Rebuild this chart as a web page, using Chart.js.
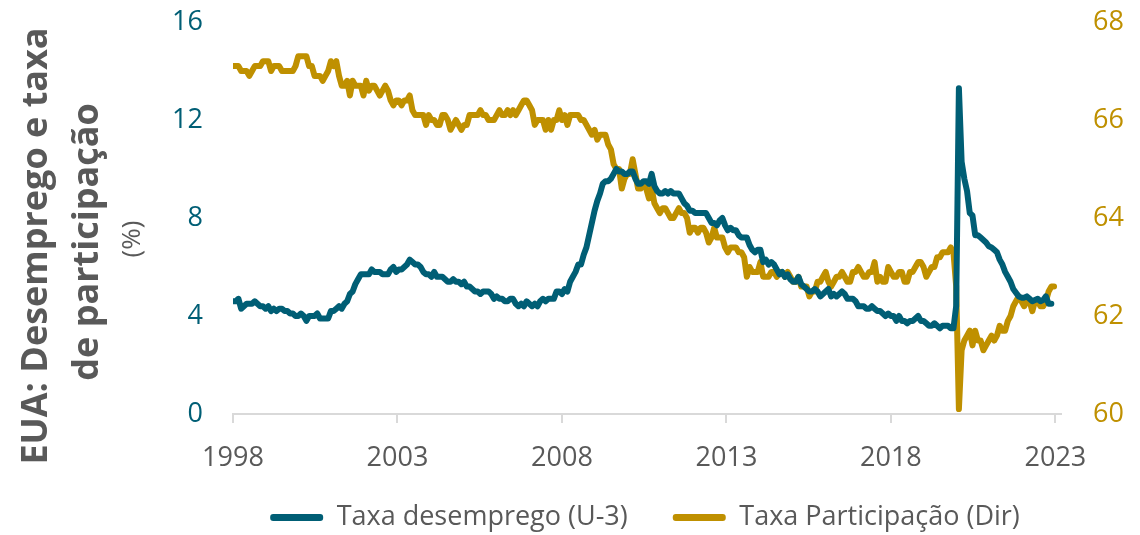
<!DOCTYPE html>
<html>
<head>
<meta charset="utf-8">
<script src="https://cdn.jsdelivr.net/npm/chart.js"></script>
<style>
  html, body { margin: 0; padding: 0; background: #ffffff; }
  #wrap { width: 1140px; height: 535px; position: relative; }
</style>
</head>
<body>
<div id="wrap"><canvas id="chart-eua"></canvas></div>
<script>
// monthly series, starting Jan 1998
var startYear = 1998;
var xTickYears = [1998, 2003, 2008, 2013, 2018, 2023];
// the source axis puts a year tick every ~60.5 monthly points
var monthsPerTick = 60.5;

var seriesNames = ["Taxa desemprego (U-3)", "Taxa Participação (Dir)"];

var unemployment = [
  4.6, 4.6, 4.7, 4.3, 4.4, 4.5, 4.5, 4.5, 4.6, 4.5, 4.4, 4.4,   // 1998
  4.3, 4.4, 4.2, 4.3, 4.2, 4.3, 4.3, 4.2, 4.2, 4.1, 4.1, 4.0,   // 1999
  4.0, 4.1, 4.0, 3.8, 4.0, 4.0, 4.0, 4.1, 3.9, 3.9, 3.9, 3.9,   // 2000
  4.2, 4.2, 4.3, 4.4, 4.3, 4.5, 4.6, 4.9, 5.0, 5.3, 5.5, 5.7,   // 2001
  5.7, 5.7, 5.7, 5.9, 5.8, 5.8, 5.8, 5.7, 5.7, 5.7, 5.9, 6.0,   // 2002
  5.8, 5.9, 5.9, 6.0, 6.1, 6.3, 6.2, 6.1, 6.1, 6.0, 5.8, 5.7,   // 2003
  5.7, 5.6, 5.8, 5.6, 5.6, 5.6, 5.5, 5.4, 5.4, 5.5, 5.4, 5.4,   // 2004
  5.3, 5.4, 5.2, 5.2, 5.1, 5.0, 5.0, 4.9, 5.0, 5.0, 5.0, 4.9,   // 2005
  4.7, 4.8, 4.7, 4.7, 4.6, 4.6, 4.7, 4.7, 4.5, 4.4, 4.5, 4.4,   // 2006
  4.6, 4.5, 4.4, 4.5, 4.4, 4.6, 4.7, 4.6, 4.7, 4.7, 4.7, 5.0,   // 2007
  5.0, 4.9, 5.1, 5.0, 5.4, 5.6, 5.8, 6.1, 6.1, 6.5, 6.8, 7.3,   // 2008
  7.8, 8.3, 8.7, 9.0, 9.4, 9.5, 9.5, 9.6, 9.8, 10.0, 9.9, 9.9,  // 2009
  9.8, 9.8, 9.9, 9.9, 9.6, 9.4, 9.4, 9.5, 9.5, 9.4, 9.8, 9.3,   // 2010
  9.1, 9.0, 9.0, 9.1, 9.0, 9.1, 9.0, 9.0, 9.0, 8.8, 8.6, 8.5,   // 2011
  8.3, 8.3, 8.2, 8.2, 8.2, 8.2, 8.2, 8.0, 7.8, 7.8, 7.7, 7.9,   // 2012
  8.0, 7.7, 7.5, 7.6, 7.5, 7.5, 7.3, 7.2, 7.2, 7.2, 6.9, 6.7,   // 2013
  6.6, 6.7, 6.7, 6.2, 6.3, 6.1, 6.2, 6.1, 5.9, 5.7, 5.8, 5.6,   // 2014
  5.7, 5.5, 5.4, 5.4, 5.6, 5.3, 5.2, 5.1, 5.0, 5.0, 5.1, 5.0,   // 2015
  4.8, 4.9, 5.0, 5.1, 4.8, 4.9, 4.8, 4.9, 5.0, 4.9, 4.7, 4.7,   // 2016
  4.7, 4.6, 4.4, 4.4, 4.4, 4.3, 4.3, 4.4, 4.3, 4.2, 4.2, 4.1,   // 2017
  4.0, 4.1, 4.0, 4.0, 3.8, 4.0, 3.8, 3.8, 3.7, 3.8, 3.8, 3.9,   // 2018
  4.0, 3.8, 3.8, 3.7, 3.6, 3.6, 3.7, 3.6, 3.5, 3.6, 3.6, 3.6,   // 2019
  3.5, 3.5, 4.4, 13.3, 10.3, 9.6, 9.1, 8.2, 8.1, 7.3, 7.3, 7.2, // 2020
  7.1, 7.0, 6.85, 6.8, 6.7, 6.6, 6.3, 6.1, 5.8, 5.6, 5.4, 5.1,  // 2021
  4.95, 4.8, 4.75, 4.75, 4.8, 4.7, 4.6, 4.65, 4.7, 4.6, 4.65, 4.8, // 2022
  4.5, 4.5                                                       // 2023
];

var participation = [
  67.1, 67.1, 67.1, 67.0, 67.0, 67.0, 66.9, 67.0, 67.1, 67.1, 67.1, 67.2, // 1998
  67.2, 67.2, 67.0, 67.1, 67.1, 67.1, 67.0, 67.0, 67.0, 67.0, 67.0, 67.1, // 1999
  67.3, 67.3, 67.3, 67.3, 67.1, 67.1, 66.9, 66.9, 66.9, 66.8, 66.9, 67.0, // 2000
  67.2, 67.1, 67.2, 66.9, 66.7, 66.7, 66.8, 66.5, 66.8, 66.7, 66.7, 66.7, // 2001
  66.5, 66.8, 66.6, 66.7, 66.7, 66.6, 66.5, 66.6, 66.7, 66.6, 66.4, 66.3, // 2002
  66.4, 66.4, 66.3, 66.4, 66.4, 66.5, 66.2, 66.1, 66.1, 66.1, 66.1, 65.9, // 2003
  66.1, 66.0, 66.0, 65.9, 65.9, 66.1, 66.1, 66.0, 65.8, 65.9, 66.0, 65.9, // 2004
  65.8, 65.9, 65.9, 66.1, 66.1, 66.1, 66.1, 66.2, 66.1, 66.1, 66.0, 66.0, // 2005
  66.0, 66.1, 66.2, 66.1, 66.1, 66.2, 66.1, 66.2, 66.1, 66.2, 66.3, 66.4, // 2006
  66.4, 66.3, 66.2, 65.9, 66.0, 66.0, 66.0, 65.8, 66.0, 65.8, 66.0, 66.0, // 2007
  66.2, 66.0, 66.1, 65.9, 66.1, 66.1, 66.1, 66.1, 66.0, 66.0, 65.9, 65.8, // 2008
  65.7, 65.8, 65.6, 65.7, 65.7, 65.7, 65.5, 65.4, 65.1, 65.0, 65.0, 64.6, // 2009
  64.8, 64.9, 64.9, 65.2, 64.9, 64.6, 64.6, 64.7, 64.6, 64.4, 64.6, 64.3, // 2010
  64.2, 64.1, 64.2, 64.2, 64.1, 64.0, 64.0, 64.1, 64.2, 64.1, 64.1, 64.0, // 2011
  63.7, 63.8, 63.8, 63.7, 63.8, 63.8, 63.7, 63.5, 63.6, 63.8, 63.6, 63.6, // 2012
  63.6, 63.4, 63.3, 63.4, 63.4, 63.4, 63.3, 63.3, 63.2, 62.8, 63.0, 62.9, // 2013
  62.9, 62.9, 63.1, 62.8, 62.8, 62.8, 62.9, 62.9, 62.8, 62.9, 62.9, 62.8, // 2014
  62.9, 62.8, 62.7, 62.7, 62.8, 62.6, 62.6, 62.6, 62.4, 62.5, 62.5, 62.7, // 2015
  62.7, 62.8, 62.9, 62.7, 62.6, 62.7, 62.8, 62.8, 62.9, 62.8, 62.7, 62.7, // 2016
  62.9, 62.9, 63.0, 62.9, 62.8, 62.8, 62.9, 62.9, 63.1, 62.7, 62.8, 62.7, // 2017
  62.7, 63.0, 62.9, 62.8, 62.8, 62.9, 62.9, 62.7, 62.7, 62.9, 62.9, 63.0, // 2018
  63.1, 63.1, 63.0, 62.8, 62.9, 63.0, 63.0, 63.2, 63.2, 63.3, 63.3, 63.3, // 2019
  63.4, 63.3, 62.6, 60.1, 61.3, 61.5, 61.6, 61.7, 61.4, 61.7, 61.5, 61.5, // 2020
  61.3, 61.4, 61.5, 61.6, 61.5, 61.6, 61.8, 61.7, 61.7, 61.9, 62.0, 62.2, // 2021
  62.3, 62.4, 62.3, 62.2, 62.3, 62.3, 62.1, 62.3, 62.3, 62.2, 62.2, 62.3, // 2022
  62.5, 62.6, 62.6                                                        // 2023
];

var tealColor = "#005E75";
var goldColor = "#BF9000";
var grayText = "#595959";
var axisGray = "#D9D9D9";

function toPoints(values) {
  return values.map(function(v, i) {
    return { x: startYear + 5 * i / monthsPerTick, y: v };
  });
}

var sideTitle = {
  id: "sideTitle",
  afterLayout: function(chart) {
    // x labels sit a bit below the (short) x axis box: don't clip them
    chart.scales.x.bottom = chart.height;
  },
  afterDraw: function(chart) {
    var ctx = chart.ctx;
    var lines = [
      { text: "EUA: Desemprego e taxa", x: 47, y: 246, font: "bold 36px 'Open Sans'" },
      { text: "de participação", x: 98, y: 242, font: "bold 36px 'Open Sans'" },
      { text: "(%)", x: 140, y: 239, font: "26px 'Open Sans'" }
    ];
    ctx.save();
    ctx.fillStyle = grayText;
    ctx.textAlign = "center";
    ctx.textBaseline = "alphabetic";
    lines.forEach(function(l) {
      ctx.save();
      ctx.translate(l.x, l.y);
      ctx.rotate(-Math.PI / 2);
      ctx.font = l.font;
      ctx.fillText(l.text, 0, 0);
      ctx.restore();
    });
    ctx.restore();
  }
};

var tickFont = { family: "'Open Sans'", size: 27 };

// y axes: fixed width and no extra top/bottom label padding so the plot
// area lines up with the source
function fitYAxis(width) {
  return function(scale) {
    scale.width = width;
    scale.paddingTop = 0;
    scale.paddingBottom = 0;
  };
}

var ctx = document.getElementById("chart-eua").getContext("2d");
var chartEua = new Chart(ctx, {
  type: "line",
  plugins: [sideTitle],
  data: {
    datasets: [{
      label: seriesNames[0],
      data: toPoints(unemployment),
      borderColor: tealColor,
      backgroundColor: tealColor,
      borderWidth: 6,
      pointRadius: 0,
      borderJoinStyle: "round",
      borderCapStyle: "round",
      yAxisID: "y"
    }, {
      label: seriesNames[1],
      data: toPoints(participation),
      borderColor: goldColor,
      backgroundColor: goldColor,
      borderWidth: 6,
      pointRadius: 0,
      borderJoinStyle: "round",
      borderCapStyle: "round",
      yAxisID: "y1"
    }]
  },
  options: {
    responsive: true,
    maintainAspectRatio: false,
    animation: false,
    layout: { padding: { left: 150, right: 0, top: 22, bottom: 0 } },
    plugins: {
      tooltip: { enabled: false },
      legend: {
        position: "bottom",
        maxHeight: 76,
        labels: {
          color: grayText,
          font: tickFont,
          boxWidth: 53,
          boxHeight: 7,
          padding: 45,
          useBorderRadius: true,
          borderRadius: 3,
          generateLabels: function(chart) {
            var items = Chart.defaults.plugins.legend.labels.generateLabels(chart);
            items.forEach(function(it) { it.lineWidth = 0; });
            return items;
          }
        }
      }
    },
    scales: {
      x: {
        type: "linear",
        min: 1998,
        max: 2023.17,
        afterBuildTicks: function(scale) {
          scale.ticks = xTickYears.map(function(y) { return { value: y }; });
        },
        afterFit: function(scale) { scale.height = 45; },
        border: { color: axisGray, width: 2 },
        grid: { drawOnChartArea: false, drawTicks: true, tickLength: 9, color: axisGray, lineWidth: 2 },
        ticks: {
          color: grayText,
          font: tickFont,
          padding: 19,
          maxRotation: 0,
          autoSkip: false,
          callback: function(v) { return String(v); }
        }
      },
      y: {
        position: "left",
        min: 0,
        max: 16,
        afterFit: fitYAxis(83),
        border: { display: false },
        grid: { display: false, drawTicks: false },
        ticks: { stepSize: 4, color: tealColor, font: tickFont, padding: 30 }
      },
      y1: {
        position: "right",
        min: 60,
        max: 68,
        afterFit: fitYAxis(79),
        border: { display: false },
        grid: { display: false, drawTicks: false },
        ticks: { stepSize: 2, color: goldColor, font: tickFont, padding: 32 }
      }
    }
  }
});
</script>
</body>
</html>
